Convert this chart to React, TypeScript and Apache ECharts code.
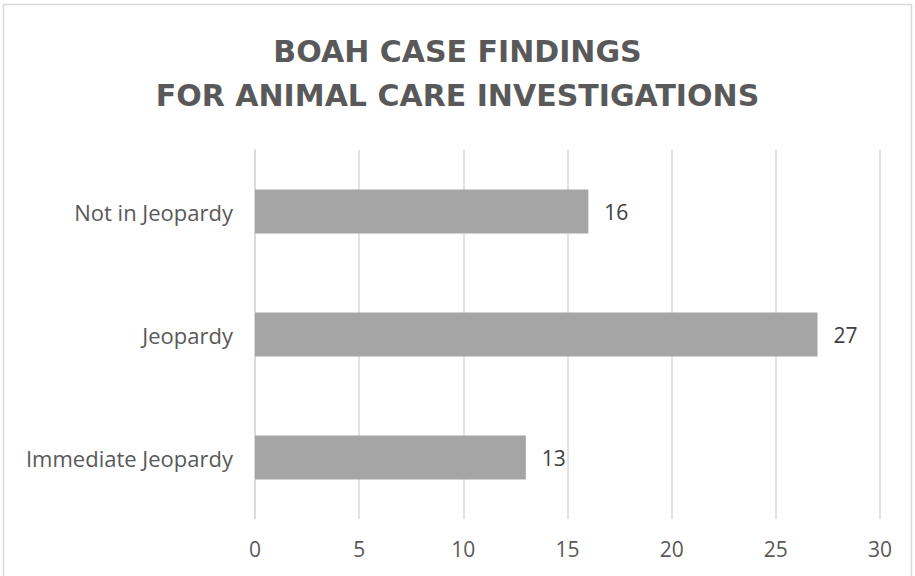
import React, { useEffect, useRef } from "react";
import * as echarts from "echarts";

const titleLines = ["BOAH CASE FINDINGS", "FOR ANIMAL CARE INVESTIGATIONS"];
const categories = ["Immediate Jeopardy", "Jeopardy", "Not in Jeopardy"];
const values = [13, 27, 16];
const xTicks = { min: 0, max: 30, interval: 5 };

export default function App() {
  const ref = useRef<HTMLDivElement>(null);
  useEffect(() => {
    if (!ref.current) return;
    const chart = echarts.init(ref.current, null, { renderer: "svg" });
    chart.setOption({
      animation: false,
      backgroundColor: "#ffffff",
      title: {
        text: titleLines.join("\n"),
        left: "center",
        top: 24,
        textStyle: {
          fontFamily: "DejaVu Sans",
          fontWeight: "bold",
          fontSize: 30,
          lineHeight: 44,
          color: "#595959",
        },
      },
      graphic: [
        {
          type: "rect",
          shape: { x: 3.5, y: 4.5, width: 908, height: 580 },
          style: { fill: "none", stroke: "#d9d9d9", lineWidth: 1.5 },
          silent: true,
        },
      ],
      grid: { left: 255, right: 35, top: 150, bottom: 57, containLabel: false },
      xAxis: {
        type: "value",
        min: xTicks.min,
        max: xTicks.max,
        interval: xTicks.interval,
        axisLine: { show: false },
        axisTick: { show: false },
        splitLine: { show: true, lineStyle: { color: "#d9d9d9", width: 1.5 } },
        axisLabel: {
          color: "#595959",
          fontFamily: "Open Sans",
          fontSize: 21,
          margin: 19,
        },
      },
      yAxis: {
        type: "category",
        data: categories,
        axisLine: { show: true, lineStyle: { color: "#d9d9d9", width: 1.5 } },
        axisTick: { show: false },
        axisLabel: {
          color: "#595959",
          fontFamily: "Open Sans",
          fontSize: 22,
          margin: 22,
        },
      },
      series: [
        {
          type: "bar",
          data: values,
          barWidth: 44,
          itemStyle: { color: "#a5a5a5" },
          label: {
            show: true,
            position: "right",
            distance: 16,
            color: "#404040",
            fontFamily: "Open Sans",
            fontSize: 21,
          },
        },
      ],
    });
    return () => chart.dispose();
  }, []);
  return (
    <div
      ref={ref}
      style={{ position: "fixed", left: 0, top: 0, width: 915, height: 576 }}
    />
  );
}
